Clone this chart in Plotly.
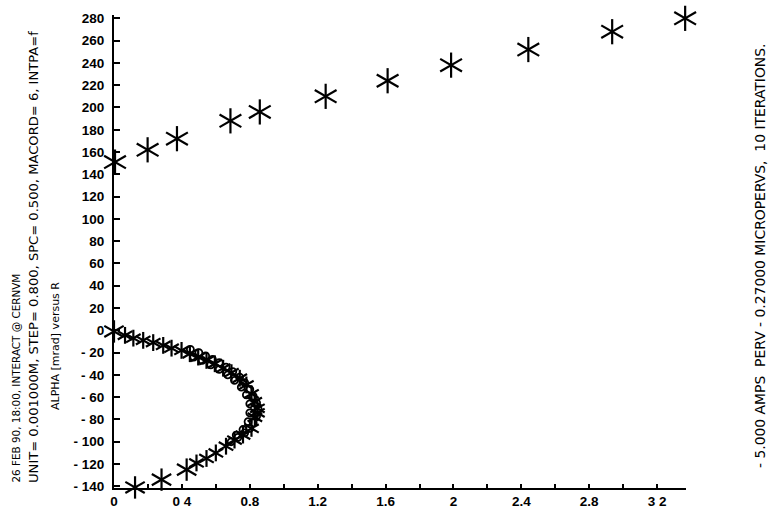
import plotly.graph_objects as go

# ---------------- data ----------------
R_TOP = [0.006, 0.198, 0.371, 0.686, 0.859, 1.247, 1.612, 1.986, 2.441, 2.935, 3.365]
A_TOP = [151, 162, 172, 188, 196, 210, 224, 238, 252, 268, 280]

R_CURVE = [0.0, 0.065, 0.114, 0.172, 0.231, 0.29, 0.339, 0.398, 0.447, 0.496, 0.545,
           0.594, 0.643, 0.692, 0.741, 0.78, 0.81, 0.829, 0.845, 0.845, 0.83, 0.81,
           0.76, 0.71, 0.66, 0.60, 0.545, 0.486, 0.428, 0.28, 0.124]
A_CURVE = [-1, -4.5, -7, -9, -11, -13.5, -16, -18, -21, -24, -27,
           -30, -34, -38, -43, -49, -57, -64, -70, -74, -78, -88,
           -94, -98.5, -104, -110, -115, -119, -125, -134, -141]

R_CIRC = [0.45, 0.50, 0.54, 0.58, 0.62, 0.66, 0.70, 0.74, 0.77, 0.80, 0.82, 0.84, 0.85,
          0.84, 0.82, 0.80, 0.77, 0.73, 0.69,
          0.47, 0.52, 0.57, 0.62, 0.67, 0.71, 0.75, 0.78, 0.80, 0.80, 0.79, 0.76, 0.72]
A_CIRC = [-17, -20, -23, -26, -29, -33, -37, -42, -47, -53, -59, -65, -71,
          -77, -83, -88, -92, -96, -100,
          -24, -27, -31, -35, -40, -45, -51, -58, -66, -74, -82, -89, -94]

X_TICKS = [0, 0.2, 0.4, 0.6, 0.8, 1.0, 1.2, 1.4, 1.6, 1.8, 2.0, 2.2, 2.4, 2.6, 2.8, 3.0, 3.2]
X_LABELS = ["0", "", "0 4", "", "0.8", "", "1.2", "", "1.6", "", "2", "", "2.4", "", "2.8", "", "3 2"]
Y_TICKS = [280, 260, 240, 220, 200, 180, 160, 140, 120, 100, 80, 60, 40, 20, 0,
           -20, -40, -60, -80, -100, -120, -140]
Y_LABELS = ["280", "260", "240", "220", "200", "180", "160", "140", "120", "100", "80",
            "60", "40", "20", "0", "- 20", "- 40", "- 60", "- 80", "- 100", "- 120", "- 140"]

TEXT_L1 = "26 FEB 90, 18:00, INTERACT @ CERNVM"
TEXT_L2 = "UNIT= 0.001000M, STEP= 0.800, SPC= 0.500, MACORD= 6, INTPA=f"
TEXT_L3 = "ALPHA [mrad] versus R"
TEXT_R = "- 5.000 AMPS  PERV - 0.27000 MICROPERVS,  10 ITERATIONS."

# ---------------- layout geometry ----------------
W, H = 768, 515
ML, MR, MT, MB = 114, 82, 15, 27
PW, PH = W - ML - MR, H - MT - MB
TICK_FONT = "Liberation Sans Narrow, Arial Narrow, Liberation Sans, sans-serif"
NOTE_FONT = "DejaVu Sans, sans-serif"


def px(x):
    return (x - ML) / PW


def py(y):
    return (H - MB - y) / PH


fig = go.Figure()


def add_star(xs, ys, size, width):
    for ang in (0, 60, -60):
        fig.add_trace(go.Scatter(
            x=xs, y=ys, mode="markers", cliponaxis=False, hoverinfo="skip",
            marker=dict(symbol="line-ns-open", size=size, angle=ang, color="black",
                        opacity=1, line=dict(color="black", width=width)),
            showlegend=False))


add_star(R_TOP, A_TOP, 18, 2.2)

big = {0, 28, 29, 30}
curve_sizes = [16 if i in big else 12 for i in range(len(R_CURVE))]
add_star(R_CURVE, A_CURVE, curve_sizes, 2.2)

fig.add_trace(go.Scatter(
    x=R_CIRC, y=A_CIRC, mode="markers", cliponaxis=False, hoverinfo="skip",
    marker=dict(symbol="circle-open", size=7, color="black", opacity=1,
                line=dict(color="black", width=1.8)),
    showlegend=False))

axis_common = dict(showgrid=False, zeroline=False, showline=True, linecolor="black",
                   linewidth=2, ticks="inside", tickcolor="black", tickwidth=1.5,
                   automargin=False,
                   tickfont=dict(family=TICK_FONT, size=13.5, color="black", weight="bold"))
fig.update_xaxes(range=[0, 3.37], tickvals=X_TICKS, ticktext=X_LABELS, ticklen=4,
                 ticklabelstandoff=0, **axis_common)
fig.update_yaxes(range=[-141.5, 283], tickvals=Y_TICKS, ticktext=Y_LABELS, ticklen=6,
                 ticklabelstandoff=5, **axis_common)

anns = [
    dict(text=TEXT_L1, x=px(15), y=py(485), size=10.4),
    dict(text=TEXT_L2, x=px(33), y=py(485), size=13.1),
    dict(text=TEXT_L3, x=px(55), y=py(412), size=11),
    dict(text=TEXT_R, x=px(760), y=py(470), size=13.9),
]
for a in anns:
    fig.add_annotation(text=a["text"], x=a["x"], y=a["y"], xref="paper", yref="paper",
                       showarrow=False, textangle=-90, xanchor="center", yanchor="bottom",
                       font=dict(family=NOTE_FONT, size=a["size"], color="black"))

fig.update_layout(width=W, height=H, margin=dict(l=ML, r=MR, t=MT, b=MB),
                  paper_bgcolor="white", plot_bgcolor="white")

fig.write_html("out.html")
